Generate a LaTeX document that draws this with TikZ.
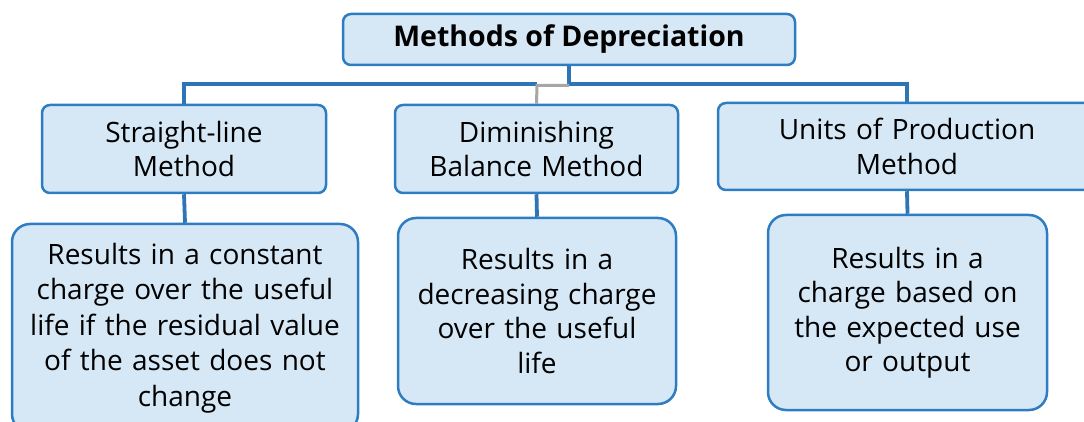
\documentclass[tikz,border=0pt]{standalone}
\usepackage{fontspec}
\setmainfont{Open Sans}
\definecolor{boxfill}{RGB}{214,232,246}
\definecolor{boxline}{RGB}{46,125,195}
\definecolor{connblue}{RGB}{46,117,182}
\definecolor{conngrey}{RGB}{166,166,166}
\begin{document}
\begin{tikzpicture}[x=1pt,y=-1pt,
  box/.style={draw=boxline, fill=boxfill, line width=2.5pt, inner sep=0pt, align=center,
    font=\fontsize{28}{34.5}\selectfont},
  conn/.style={draw=connblue, line width=3.8pt},
  conng/.style={draw=conngrey, line width=3pt}]
\useasboundingbox (0,0) rectangle (1084,422);
\clip (0,0) rectangle (1084,422);
\node[box, rounded corners=8pt, minimum width=452pt, minimum height=51pt,
  font=\fontsize{28.5}{34}\selectfont\bfseries] (top) at (569,39.5) {Methods of Depreciation};
\node[box, rounded corners=8pt, minimum width=284pt, minimum height=88pt, text width=275pt] (m1) at (184,149) {Straight-line\\Method};
\node[box, rounded corners=8pt, minimum width=283pt, minimum height=88pt, text width=275pt] (m2) at (536.5,149) {Diminishing\\Balance Method};
\node[box, rounded corners=8pt, minimum width=378pt, minimum height=87pt, text width=330pt] (m3) at (907,146.5) {Units of Production\\Method};
\node[box, rounded corners=18pt, minimum width=346pt, minimum height=208pt, text width=340pt,
  font=\fontsize{28}{35.5}\selectfont] (d1) at (185,328) {Results in a constant\\charge over the useful\\life if the residual value\\of the asset does not\\change};
\node[box, rounded corners=18pt, minimum width=278pt, minimum height=186pt, text width=272pt] (d2) at (537,311) {Results in a\\decreasing charge\\over the useful\\life};
\node[box, rounded corners=18pt, minimum width=279pt, minimum height=195pt, text width=272pt] (d3) at (907.5,312.5) {Results in a\\charge based on\\the expected use\\or output};
\coordinate (hub) at (569,84);
\coordinate (gl) at (537,84);
\coordinate (hubg) at (569,85.5);
\coordinate (glg) at (537,85.5);
\draw[conn] (top.south) -- (hub) -| (m3.north);
\draw[conn] (gl) -| (m1.north);
\draw[conng] (hubg) -- (glg) -- (m2.north);
\draw[conn] (m1.south) -- (d1.north);
\draw[conn] (m2.south) -- (d2.north);
\draw[conn] (m3.south) -- (d3.north);
\end{tikzpicture}
\end{document}
